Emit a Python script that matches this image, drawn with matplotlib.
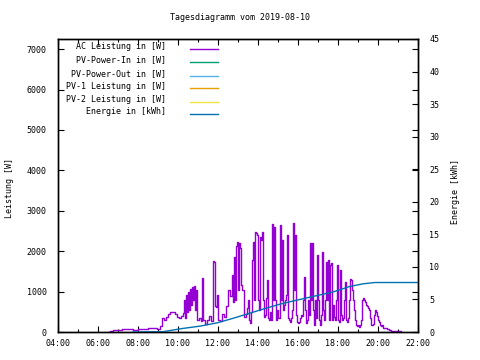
import matplotlib
matplotlib.use("Agg")
import matplotlib.pyplot as plt
from matplotlib.lines import Line2D
from matplotlib.ticker import MultipleLocator
import numpy as np

# ---------------- data ----------------
title = "Tagesdiagramm vom 2019-08-10"
y1_label = "Leistung [W]"
y2_label = "Energie [kWh]"

x_tick_labels = ["04:00", "06:00", "08:00", "10:00", "12:00", "14:00",
                 "16:00", "18:00", "20:00", "22:00"]
y1_ticks = [0, 1000, 2000, 3000, 4000, 5000, 6000, 7000]
y2_ticks = [0, 5, 10, 15, 20, 25, 30, 35, 40, 45]

series_labels = ["AC Leistung in [W]", "PV-Power-In in [W]", "PV-Power-Out in [W]",
                 "PV-1 Leistung in [W]", "PV-2 Leistung in [W]", "Energie in [kWh]"]
series_colors = ["#9400d3", "#009e73", "#56b4e9", "#e69f00", "#f0e442", "#0072b2"]

# AC power, sampled every 3 minutes starting 06:30
ac_start = "06:30"
ac_step_min = 3
ac_power = [
    # 06:30
    0, 0, 25, 25, 25, 50, 50, 50, 50, 50, 50, 50, 50, 50, 75, 75, 75, 75, 75, 75,
    # 07:30
    75, 75, 75, 75, 75, 50, 50, 50, 50, 50, 75, 75, 75, 75, 75, 75, 75, 75, 75, 75,
    # 08:30
    100, 100, 100, 100, 100, 100, 100, 100, 100, 75, 75, 75, 150, 150, 345, 345, 295, 295, 370, 370,
    # 09:30
    445, 445, 495, 495, 495, 495, 495, 445, 445, 370, 370, 345, 345, 395, 395, 470, 790, 345, 915, 495,
    # 10:30
    990, 545, 1060, 665, 1110, 790, 1135, 545, 1040, 295, 295, 345, 345, 270, 1335, 295, 295, 200, 200, 295,
    # 11:30
    295, 395, 395, 270, 270, 1755, 1730, 640, 620, 915, 295, 295, 270, 270, 445, 445, 370, 370, 640, 640,
    # 12:30
    1040, 1040, 890, 890, 1410, 740, 1850, 790, 2125, 2225, 1040, 2200, 2075, 1160, 1040, 1040, 370, 370, 445, 595,
    # 13:30
    790, 295, 220, 495, 1780, 2225, 790, 2470, 2445, 2395, 790, 545, 2345, 2270, 2470, 790, 370, 420, 840, 1285,
    # 14:30
    345, 295, 495, 295, 2670, 790, 2595, 790, 295, 545, 345, 345, 2645, 790, 2270, 545, 665, 790, 915, 2395,
    # 15:30
    345, 295, 245, 345, 545, 2690, 1040, 2395, 420, 245, 220, 245, 345, 420, 395, 790, 1360, 545, 220, 295,
    # 16:30
    790, 420, 2200, 790, 2200, 545, 175, 790, 345, 1900, 790, 295, 175, 420, 1975, 545, 295, 790, 1730, 790,
    # 17:30
    1780, 295, 1655, 1705, 295, 665, 370, 295, 790, 1655, 295, 245, 1530, 420, 295, 345, 790, 1235, 295, 245,
    # 18:30
    345, 790, 1310, 1285, 1040, 790, 545, 295, 175, 150, 175, 125, 175, 295, 790, 840, 790, 740, 665, 640,
    # 19:30
    595, 545, 345, 175, 175, 200, 420, 545, 495, 395, 295, 245, 175, 150, 175, 100, 100, 100, 100, 75,
    # 20:30
    75, 50, 50, 25, 25, 25, 25, 25, 25, 25, 25, 25, 25, 0,
]

# Cumulative energy
energy_time = ["07:45", "09:15", "10:15", "11:06", "11:57", "12:45", "13:36", "14:27",
               "15:15", "16:06", "16:57", "17:45", "18:36", "19:15", "19:51", "22:00"]
energy_kwh = [0.0, 0.05, 0.55, 0.9, 1.4, 2.1, 2.9, 3.7,
              4.4, 5.0, 5.6, 6.15, 7.0, 7.4, 7.6, 7.6]

# other series (no data recorded)
pv_in = []
pv_out = []
pv1 = []
pv2 = []


def hm(s):
    h, m = s.split(":")
    return int(h) + int(m) / 60.0


# ---------------- plot ----------------
plt.rcParams["font.family"] = ["DejaVu Sans Mono"]
plt.rcParams["font.size"] = 6

W, H = 480, 360
fig = plt.figure(figsize=(4.8, 3.6), dpi=100)
ax = fig.add_axes([58 / W, 1 - 332 / H, 360 / W, 293 / H])
ax2 = ax.twinx()

ac_t = hm(ac_start) + np.arange(len(ac_power)) * ac_step_min / 60.0
ax.step(ac_t, ac_power, where="post", color=series_colors[0], lw=1.0)
ax.plot([], [], color=series_colors[1])
ax.plot([], [], color=series_colors[2])
ax.plot([], [], color=series_colors[3])
ax.plot([], [], color=series_colors[4])

e_t = [hm(s) for s in energy_time]
ax2.plot(e_t, energy_kwh, color=series_colors[5], lw=1.0)

ax.set_xlim(4, 22)
ax.set_ylim(0, 7250)
ax2.set_ylim(0, 45)

ax.set_xticks([hm(s) for s in x_tick_labels])
ax.set_xticklabels(x_tick_labels)
ax.xaxis.set_minor_locator(MultipleLocator(1))
ax.set_yticks(y1_ticks)
ax2.set_yticks(y2_ticks)

ax.tick_params(axis="both", which="major", direction="in", length=4, width=0.8,
               top=True, right=True, labelsize=6)
ax.tick_params(axis="x", which="minor", direction="in", length=2, width=0.8, top=True)
ax.tick_params(axis="x", pad=5)
ax.tick_params(axis="y", pad=8)
ax2.tick_params(axis="y", direction="in", length=4, width=0.8, pad=8, labelsize=6)

for a in (ax, ax2):
    for sp in a.spines.values():
        sp.set_linewidth(1.0)

fig.text(240 / W, 1 - 18 / H, title, ha="center", va="center", fontsize=6)
fig.text(10 / W, 1 - 188 / H, y1_label, ha="center", va="center", rotation=90, fontsize=6)
fig.text(455 / W, 1 - 192 / H, y2_label, ha="center", va="center", rotation=90, fontsize=6)

# gnuplot-style key: right aligned text, sample line to the right
text_rows = [46.7, 60, 73.3, 86, 99.3, 111.7]
for i, (lab, col) in enumerate(zip(series_labels, series_colors)):
    ty = (332 - text_rows[i]) / 293
    ax.text((166 - 58) / 360, ty, lab, transform=ax.transAxes, ha="right",
            va="center", fontsize=6)
    ly = (332 - text_rows[i] - 2.3) / 293
    ax.add_line(Line2D([(190 - 58) / 360, (218 - 58) / 360], [ly, ly],
                       transform=ax.transAxes, color=col, lw=1.0))

fig.savefig("out.png", dpi=100)
